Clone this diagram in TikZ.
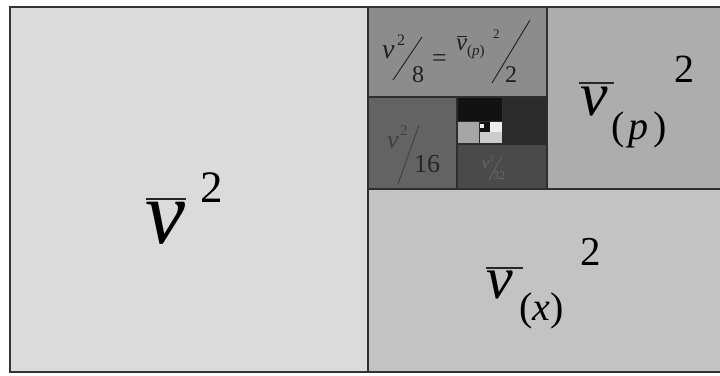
\documentclass[tikz,border=0pt]{standalone}
\usepackage{fontspec}
\setmainfont{Liberation Serif}
\begin{document}
\begin{tikzpicture}[x=1pt,y=-1pt,
  txt/.style={anchor=base west,inner sep=0pt,outer sep=0pt},
  cell/.style={draw=black!82,line width=1.8pt},
  thin/.style={draw=black!82,line width=1pt},
  bar/.style={line width=1.4pt,black!85}]
\definecolor{cA}{gray}{0.86}
\definecolor{cX}{gray}{0.765}
\definecolor{cP}{gray}{0.68}
\definecolor{c8}{gray}{0.55}
\definecolor{c16}{gray}{0.39}
\definecolor{c32}{gray}{0.29}
\definecolor{c64}{gray}{0.17}
\definecolor{c128}{gray}{0.07}
\definecolor{c256}{gray}{0.65}
\definecolor{c512}{gray}{0.80}
\definecolor{cW}{gray}{0.93}
\useasboundingbox (0,0) rectangle (720,375);
\fill[white] (0,0) rectangle (720,375);
\clip (0,0) rectangle (720,375);
% fills
\fill[cA] (10,7) rectangle (368,372);
\fill[cX] (368,189) rectangle (732,372);
\fill[cP] (547,7) rectangle (732,189);
\fill[c8] (368,7) rectangle (547,97);
\fill[c16] (368,97) rectangle (457,189);
\fill[c32] (457,144) rectangle (547,189);
\fill[c64] (502,97) rectangle (547,144);
\fill[c128] (457,97) rectangle (502,121);
\fill[c256] (457,121) rectangle (479,144);
\fill[c512] (479,132) rectangle (502,144);
\fill[cW] (490,121) rectangle (502,132);
\fill[c128] (479,121) rectangle (490,132);
\fill[cW] (480,124) rectangle (484,128);
% borders
\draw[cell] (368,7) -- (368,372);
\draw[cell] (368,189) -- (732,189);
\draw[cell] (547,7) -- (547,189);
\draw[cell] (368,97) -- (547,97);
\draw[cell] (457,97) -- (457,189);
\draw[cell] (457,144) -- (547,144);
\draw[thin] (502,97) -- (502,144);
\draw[thin] (457,121) -- (502,121);
\draw[thin] (479,121) -- (479,144);
\draw[line width=2.6pt,black!80] (10,7) rectangle (732,372);
% big v^2
\node[txt] (va) at (145,243) {\fontsize{90}{90}\selectfont\itshape v};
\node[txt] (va2) at (200,202) {\fontsize{45}{45}\selectfont 2};
\draw[bar] (146,199) -- (186,199);
% v_(p)^2
\node[txt] (vp) at (580,115) {\fontsize{62}{62}\selectfont\itshape v};
\node[txt] (vps) at (611,139) {\fontsize{40}{40}\selectfont (\kern4pt\itshape p\kern5pt\upshape)};
\node[txt] (vp2) at (674,82) {\fontsize{40}{40}\selectfont 2};
\draw[bar] (579,83) -- (614,83);
% v_(x)^2
\node[txt] (vx) at (486,298) {\fontsize{60}{60}\selectfont\itshape v};
\node[txt] (vxs) at (519,320) {\fontsize{40}{40}\selectfont (\itshape x\upshape)};
\node[txt] (vx2) at (580,265) {\fontsize{41}{41}\selectfont 2};
\draw[bar] (486,268) -- (523,268);
% v^2/8 = v_(p)^2/2
\begin{scope}[black!88]
\node[txt,text=black!88] (e1) at (382,58) {\fontsize{28}{28}\selectfont\itshape v};
\node[txt,text=black!88] (e2) at (397,45) {\fontsize{16}{16}\selectfont 2};
\draw[line width=0.9pt] (393,80) -- (422,37);
\node[txt,text=black!88] (e3) at (412,82) {\fontsize{24}{24}\selectfont 8};
\node[txt,text=black!88] (e4) at (432,66) {\fontsize{26}{26}\selectfont =};
\node[txt,text=black!88] (e5) at (456,50) {\fontsize{25}{25}\selectfont\itshape v};
\node[txt,text=black!88] (e6) at (467,55) {\fontsize{15}{15}\selectfont (\itshape p\upshape)};
\node[txt,text=black!88] (e7) at (493,38) {\fontsize{13}{13}\selectfont 2};
\draw[line width=0.6pt] (457,36) -- (467,36);
\draw[line width=0.9pt] (492,83) -- (530,20);
\node[txt,text=black!88] (e8) at (505,82) {\fontsize{24}{24}\selectfont 2};
\end{scope}
% v^2/16
\begin{scope}[black!75]
\node[txt,text=black!75] (f1) at (387,148) {\fontsize{26}{26}\selectfont\itshape v};
\node[txt,text=black!75] (f2) at (400,135) {\fontsize{15}{15}\selectfont 2};
\draw[line width=0.9pt] (398,184) -- (419,125);
\node[txt,text=black!85] (f3) at (414,172) {\fontsize{26}{26}\selectfont 16};
\end{scope}
% v^2/32
\begin{scope}[black!58]
\node[txt,text=black!58] (g1) at (482,168) {\fontsize{16}{16}\selectfont\itshape v};
\node[txt,text=black!58] (g2) at (490,161) {\fontsize{8}{8}\selectfont 2};
\draw[line width=0.6pt] (489,180) -- (502,156);
\node[txt,text=black!58] (g3) at (493,179) {\fontsize{12}{12}\selectfont 32};
\end{scope}
\end{tikzpicture}
\end{document}
